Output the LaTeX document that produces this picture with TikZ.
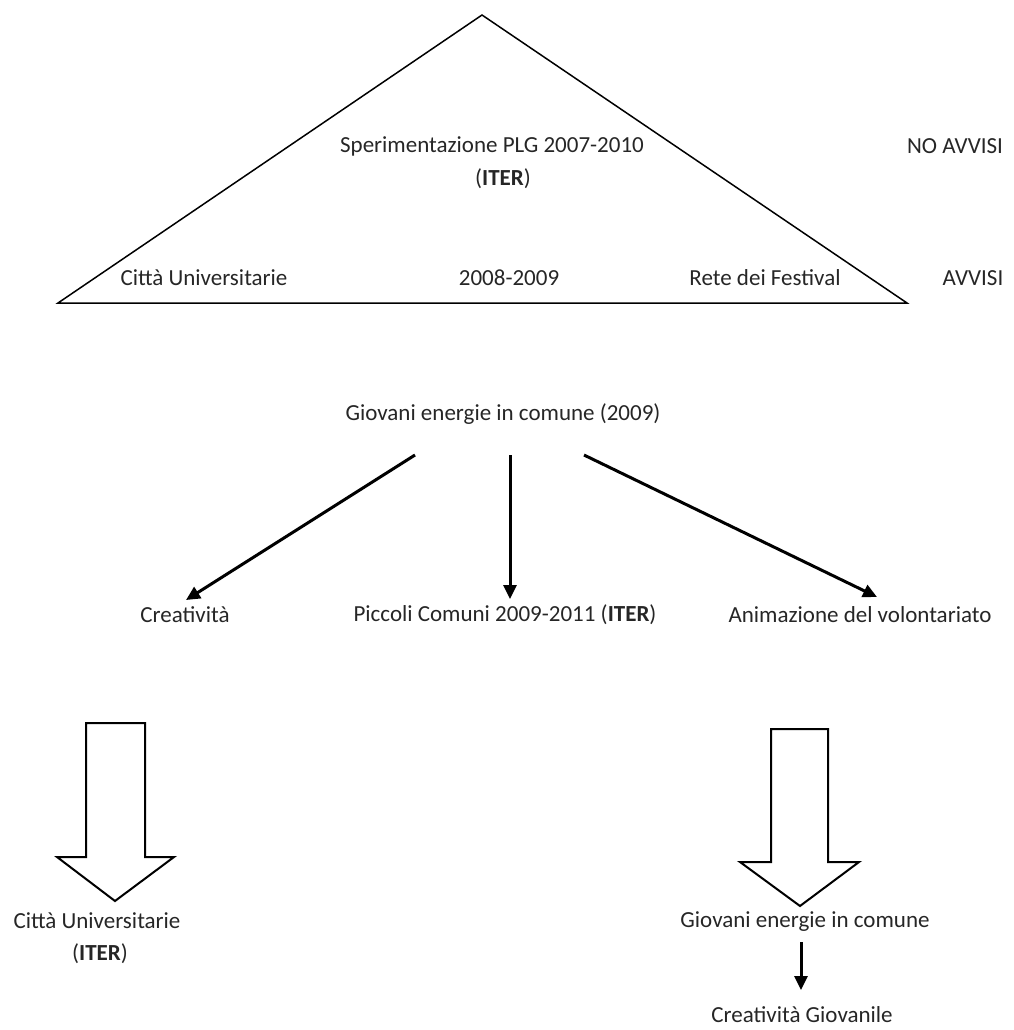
\documentclass[tikz,border=0pt]{standalone}
\usepackage{fontspec}
\setmainfont{Carlito}
\usetikzlibrary{arrows.meta}
\begin{document}
\begin{tikzpicture}[x=1pt,y=-1pt,
  lbl/.style={font=\fontsize{23}{27}\selectfont, inner sep=0pt, anchor=center, text=black!85},
  conn/.style={line width=3pt, -{Triangle[length=14pt,width=13pt]}},
  blk/.style={draw, line width=2pt, fill=white, line join=miter},
  tri/.style={draw, line width=1.5pt, line join=miter}]
\useasboundingbox (0,0) rectangle (1013,1030);
% pyramid
\draw[tri] (482,15) -- (58,303) -- (907,303) -- cycle;
\node[lbl] (s1) at (492,146) {Sperimentazione PLG 2007-2010};
\node[lbl] (s2) at (503,179) {(\textbf{ITER})};
\node[lbl] (noav) at (955,146) {NO AVVISI};
\node[lbl] (cu) at (204,278) {Città Universitarie};
\node[lbl] (yr) at (509,278) {2008-2009};
\node[lbl] (rf) at (765,278) {Rete dei Festival};
\node[lbl] (av) at (973,278) {AVVISI};
% second level
\node[lbl] (gec) at (503,414) {Giovani energie in comune (2009)};
\node[lbl] (cr) at (185,615) {Creatività};
\node[lbl] (pc) at (505,615) {Piccoli Comuni 2009-2011 (\textbf{ITER})};
\node[lbl] (an) at (860,615) {Animazione del volontariato};
\coordinate (a1s) at (415,455);
\coordinate (a1e) at (186,600);
\coordinate (a2s) at (510,455);
\coordinate (a2e) at (510,599);
\coordinate (a3s) at (584,455);
\coordinate (a3e) at (877,597);
\draw[conn] (a1s) -- (a1e);
\draw[conn] (a2s) -- (a2e);
\draw[conn] (a3s) -- (a3e);
% block arrows
\draw[blk] (86,723) -- (145,723) -- (145,857) -- (174,857) -- (115,901) -- (57,857) -- (86,857) -- cycle;
\draw[blk] (771,729) -- (828,729) -- (828,862) -- (859,862) -- (800,906) -- (740,862) -- (771,862) -- cycle;
% bottom
\node[lbl] (cu2) at (97,921) {Città Universitarie};
\node[lbl] (it2) at (100,954) {(\textbf{ITER})};
\node[lbl] (ge2) at (805,922) {Giovani energie in comune};
\node[lbl] (cg) at (802,1015) {Creatività Giovanile};
\coordinate (b1s) at (801,942);
\coordinate (b1e) at (801,990);
\draw[conn] (b1s) -- (b1e);
\end{tikzpicture}
\end{document}
